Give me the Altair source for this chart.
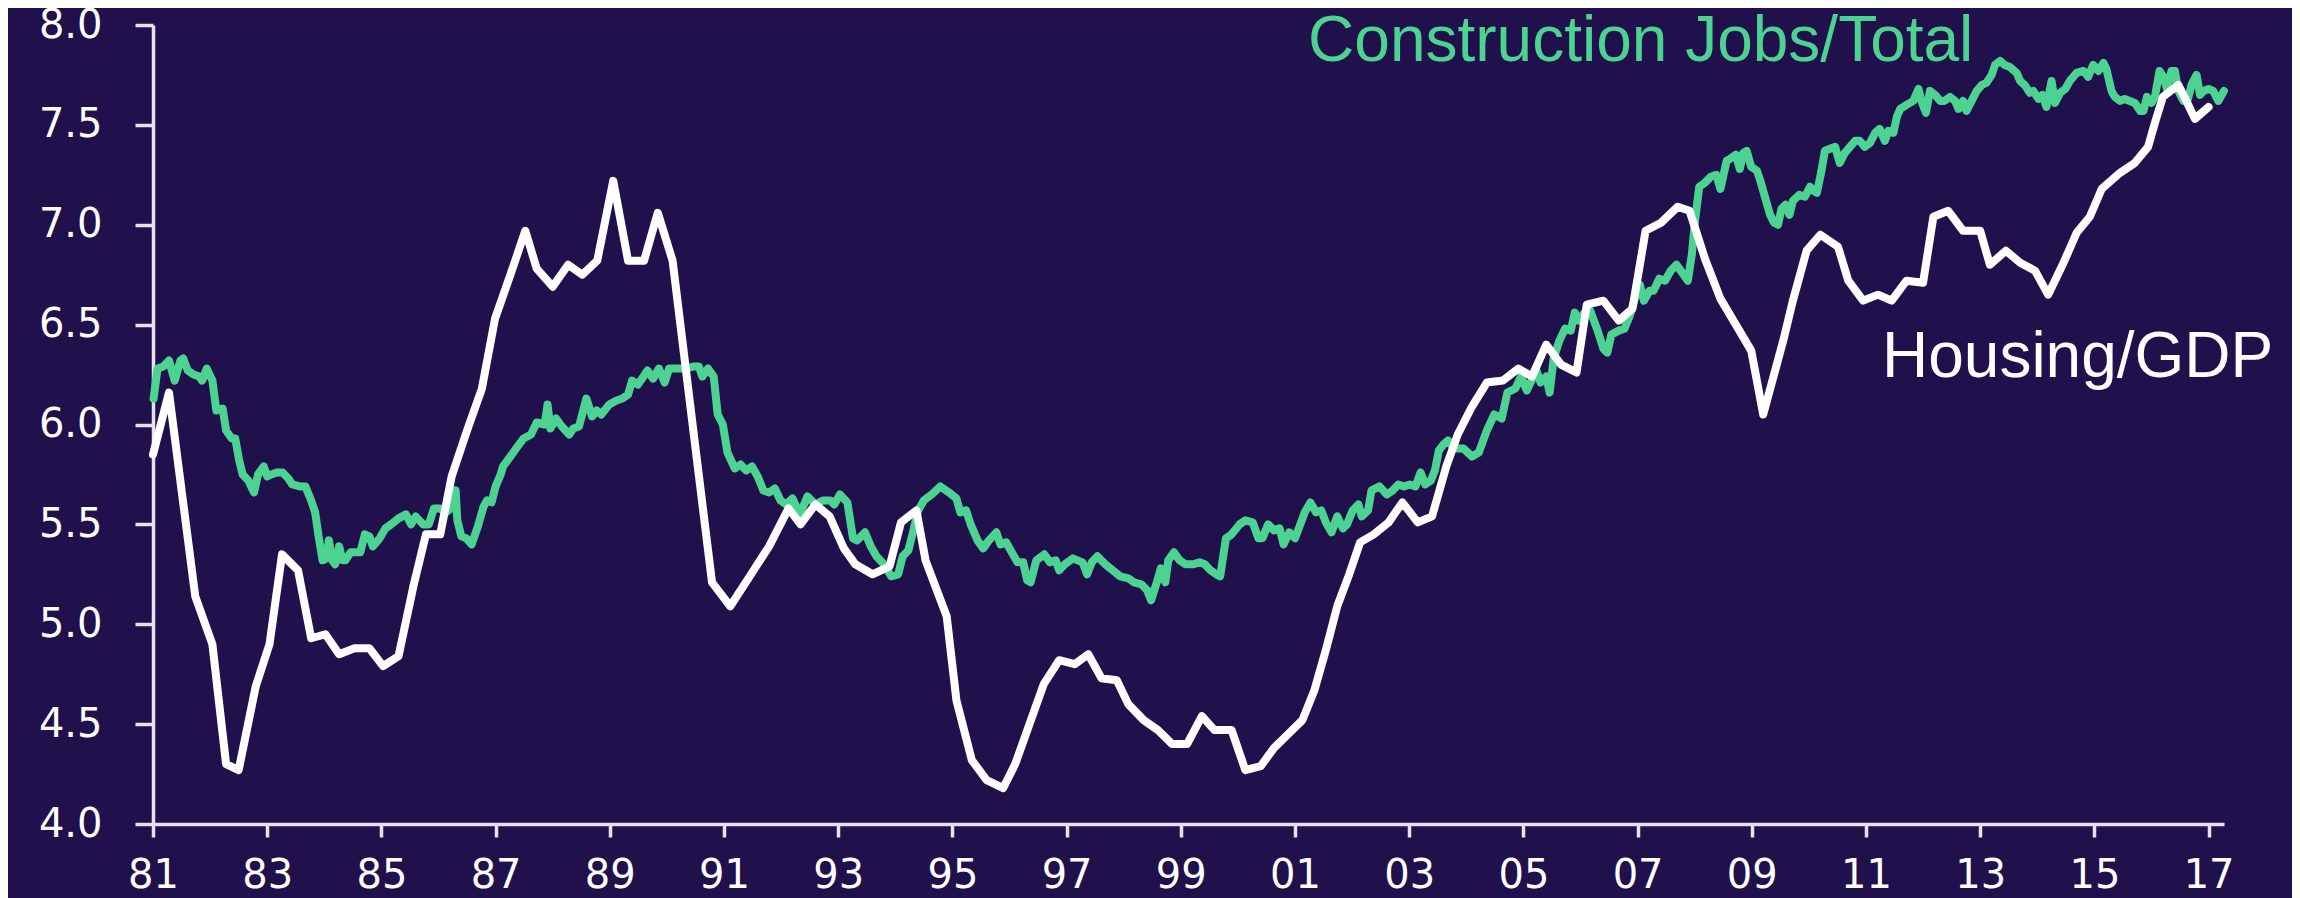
import altair as alt
import pandas as pd

# ---------------- data ----------------
housing_years = [
    1981.00, 1981.28, 1981.51, 1981.74, 1982.04, 1982.28, 1982.50, 1982.80, 1983.04, 1983.26,
    1983.54, 1983.77, 1984.02, 1984.26, 1984.53, 1984.79, 1985.03, 1985.30, 1985.56, 1985.78,
    1986.03, 1986.23, 1986.50, 1986.76, 1986.99, 1987.26, 1987.52, 1987.72, 1988.00, 1988.27,
    1988.52, 1988.78, 1989.06, 1989.32, 1989.60, 1989.84, 1990.10, 1990.45, 1990.79, 1991.11,
    1991.45, 1991.79, 1992.13, 1992.34, 1992.60, 1992.85, 1993.10, 1993.30, 1993.60, 1993.90,
    1994.10, 1994.37, 1994.53, 1994.90, 1995.07, 1995.34, 1995.60, 1995.89, 1996.10, 1996.40,
    1996.60, 1996.87, 1997.14, 1997.38, 1997.61, 1997.88, 1998.08, 1998.35, 1998.60, 1998.85,
    1999.11, 1999.37, 1999.59, 1999.89, 2000.13, 2000.40, 2000.63, 2000.88, 2001.13, 2001.34,
    2001.54, 2001.74, 2001.95, 2002.14, 2002.38, 2002.64, 2002.88, 2003.15, 2003.40, 2003.65,
    2003.85, 2004.10, 2004.36, 2004.64, 2004.91, 2005.15, 2005.40, 2005.66, 2005.93, 2006.11,
    2006.40, 2006.67, 2006.91, 2007.14, 2007.41, 2007.70, 2007.91, 2008.18, 2008.45, 2008.72,
    2008.99, 2009.20, 2009.39, 2009.56, 2009.72, 2009.96, 2010.20, 2010.51, 2010.69, 2010.95,
    2011.21, 2011.45, 2011.71, 2012.00, 2012.18, 2012.44, 2012.70, 2013.00, 2013.17, 2013.45,
    2013.70, 2013.96, 2014.19, 2014.46, 2014.69, 2014.92, 2015.13, 2015.45, 2015.71, 2015.94,
    2016.06, 2016.20, 2016.47, 2016.61, 2016.76, 2017.00,
]
housing_vals = [
    5.85, 6.16, 5.65, 5.14, 4.90, 4.30, 4.27, 4.69, 4.90, 5.35,
    5.27, 4.93, 4.95, 4.85, 4.88, 4.88, 4.79, 4.84, 5.19, 5.45,
    5.45, 5.74, 5.97, 6.18, 6.53, 6.75, 6.97, 6.78, 6.69, 6.80,
    6.75, 6.82, 7.22, 6.82, 6.82, 7.06, 6.82, 6.00, 5.21, 5.09,
    5.24, 5.39, 5.58, 5.50, 5.60, 5.54, 5.38, 5.30, 5.25, 5.29,
    5.51, 5.57, 5.32, 5.04, 4.62, 4.32, 4.22, 4.18, 4.30, 4.54,
    4.70, 4.82, 4.80, 4.85, 4.73, 4.72, 4.60, 4.52, 4.47, 4.40,
    4.40, 4.54, 4.47, 4.47, 4.27, 4.29, 4.38, 4.45, 4.52, 4.67,
    4.87, 5.09, 5.25, 5.41, 5.45, 5.51, 5.61, 5.51, 5.54, 5.79,
    5.95, 6.09, 6.21, 6.22, 6.28, 6.24, 6.40, 6.30, 6.26, 6.60,
    6.62, 6.52, 6.58, 6.97, 7.01, 7.09, 7.07, 6.83, 6.63, 6.50,
    6.37, 6.05, 6.25, 6.43, 6.62, 6.87, 6.95, 6.89, 6.72, 6.62,
    6.65, 6.62, 6.72, 6.71, 7.04, 7.07, 6.97, 6.97, 6.80, 6.87,
    6.81, 6.77, 6.65, 6.81, 6.96, 7.04, 7.18, 7.26, 7.31, 7.39,
    7.51, 7.64, 7.70, 7.62, 7.53, 7.59,
]

jobs_years = [
    1981.01, 1981.08, 1981.18, 1981.28, 1981.38, 1981.48, 1981.53, 1981.61, 1981.71, 1981.81,
    1981.86, 1981.94, 1982.04, 1982.11, 1982.22, 1982.28, 1982.38, 1982.44, 1982.51, 1982.57,
    1982.67, 1982.77, 1982.84, 1982.94, 1983.00, 1983.07, 1983.17, 1983.27, 1983.37, 1983.44,
    1983.57, 1983.67, 1983.77, 1983.84, 1983.90, 1983.97, 1984.04, 1984.08, 1984.14, 1984.19,
    1984.26, 1984.32, 1984.37, 1984.46, 1984.57, 1984.63, 1984.71, 1984.79, 1984.85, 1984.97,
    1985.07, 1985.17, 1985.30, 1985.43, 1985.52, 1985.60, 1985.73, 1985.83, 1985.92, 1986.03,
    1986.13, 1986.22, 1986.30, 1986.33, 1986.40, 1986.49, 1986.58, 1986.69, 1986.79, 1986.85,
    1986.93, 1987.00, 1987.09, 1987.13, 1987.26, 1987.36, 1987.49, 1987.62, 1987.72, 1987.86,
    1987.91, 1987.96, 1988.06, 1988.16, 1988.29, 1988.36, 1988.46, 1988.59, 1988.69, 1988.77,
    1988.85, 1988.99, 1989.12, 1989.22, 1989.32, 1989.39, 1989.49, 1989.59, 1989.66, 1989.76,
    1989.86, 1989.96, 1990.04, 1990.19, 1990.32, 1990.46, 1990.56, 1990.62, 1990.72, 1990.82,
    1990.89, 1990.98, 1991.06, 1991.19, 1991.29, 1991.39, 1991.49, 1991.59, 1991.69, 1991.79,
    1991.89, 1991.99, 1992.09, 1992.20, 1992.33, 1992.46, 1992.60, 1992.73, 1992.86, 1992.93,
    1993.03, 1993.16, 1993.26, 1993.33, 1993.47, 1993.57, 1993.67, 1993.80, 1993.93, 1994.05,
    1994.13, 1994.23, 1994.30, 1994.40, 1994.50, 1994.64, 1994.79, 1994.94, 1995.07, 1995.14,
    1995.24, 1995.32, 1995.44, 1995.54, 1995.64, 1995.77, 1995.84, 1995.94, 1996.04, 1996.14,
    1996.24, 1996.31, 1996.37, 1996.47, 1996.61, 1996.71, 1996.81, 1996.87, 1996.97, 1997.11,
    1997.28, 1997.36, 1997.44, 1997.54, 1997.68, 1997.81, 1997.94, 1998.08, 1998.18, 1998.31,
    1998.41, 1998.48, 1998.58, 1998.65, 1998.73, 1998.78, 1998.88, 1998.98, 1999.08, 1999.21,
    1999.33, 1999.42, 1999.52, 1999.62, 1999.69, 1999.79, 1999.89, 2000.03, 2000.13, 2000.26,
    2000.36, 2000.43, 2000.53, 2000.63, 2000.73, 2000.80, 2000.90, 2001.00, 2001.08, 2001.17,
    2001.27, 2001.37, 2001.46, 2001.54, 2001.64, 2001.74, 2001.84, 2001.91, 2002.01, 2002.11,
    2002.17, 2002.28, 2002.34, 2002.48, 2002.61, 2002.71, 2002.81, 2002.91, 2003.01, 2003.11,
    2003.20, 2003.28, 2003.38, 2003.45, 2003.52, 2003.60, 2003.68, 2003.79, 2003.95, 2004.10,
    2004.22, 2004.36, 2004.49, 2004.62, 2004.72, 2004.86, 2004.96, 2005.06, 2005.16, 2005.23,
    2005.30, 2005.40, 2005.46, 2005.53, 2005.63, 2005.73, 2005.83, 2005.90, 2005.97, 2006.07,
    2006.17, 2006.30, 2006.40, 2006.47, 2006.54, 2006.67, 2006.77, 2006.87, 2006.97, 2007.04,
    2007.11, 2007.21, 2007.28, 2007.38, 2007.48, 2007.58, 2007.68, 2007.78, 2007.88, 2007.95,
    2008.01, 2008.08, 2008.18, 2008.28, 2008.38, 2008.45, 2008.56, 2008.62, 2008.72, 2008.79,
    2008.85, 2008.91, 2008.99, 2009.09, 2009.15, 2009.24, 2009.32, 2009.39, 2009.46, 2009.52,
    2009.59, 2009.66, 2009.72, 2009.83, 2009.93, 2010.02, 2010.08, 2010.14, 2010.22, 2010.28,
    2010.37, 2010.46, 2010.54, 2010.63, 2010.72, 2010.81, 2010.89, 2010.98, 2011.07, 2011.16,
    2011.24, 2011.33, 2011.39, 2011.48, 2011.54, 2011.60, 2011.71, 2011.83, 2011.92, 2011.97,
    2012.05, 2012.12, 2012.21, 2012.30, 2012.37, 2012.47, 2012.56, 2012.62, 2012.70, 2012.76,
    2012.85, 2012.94, 2013.03, 2013.11, 2013.20, 2013.26, 2013.35, 2013.43, 2013.52, 2013.64,
    2013.70, 2013.78, 2013.87, 2013.93, 2014.02, 2014.09, 2014.16, 2014.25, 2014.31, 2014.40,
    2014.49, 2014.57, 2014.69, 2014.81, 2014.89, 2014.98, 2015.07, 2015.16, 2015.21, 2015.30,
    2015.36, 2015.45, 2015.53, 2015.62, 2015.71, 2015.80, 2015.86, 2015.92, 2016.00, 2016.06,
    2016.14, 2016.21, 2016.27, 2016.35, 2016.41, 2016.47, 2016.56, 2016.64, 2016.70, 2016.79,
    2016.85, 2016.91, 2017.00, 2017.08, 2017.17, 2017.27,
]
jobs_vals = [
    6.13, 6.28, 6.29, 6.32, 6.22, 6.32, 6.33, 6.27, 6.25, 6.24,
    6.22, 6.28, 6.22, 6.07, 6.08, 5.97, 5.93, 5.93, 5.82, 5.75,
    5.72, 5.66, 5.75, 5.79, 5.74, 5.75, 5.76, 5.76, 5.73, 5.70,
    5.69, 5.69, 5.62, 5.56, 5.44, 5.32, 5.33, 5.42, 5.32, 5.30,
    5.39, 5.32, 5.32, 5.36, 5.36, 5.36, 5.45, 5.44, 5.39, 5.43,
    5.48, 5.50, 5.53, 5.55, 5.50, 5.54, 5.50, 5.50, 5.58, 5.58,
    5.56, 5.58, 5.67, 5.52, 5.44, 5.43, 5.40, 5.49, 5.59, 5.62,
    5.61, 5.69, 5.75, 5.79, 5.84, 5.88, 5.93, 5.95, 6.01, 6.00,
    6.10, 5.98, 6.03, 5.99, 5.95, 5.98, 5.99, 6.13, 6.04, 6.07,
    6.05, 6.10, 6.12, 6.13, 6.15, 6.22, 6.20, 6.24, 6.27, 6.23,
    6.28, 6.21, 6.28, 6.28, 6.28, 6.29, 6.29, 6.24, 6.28, 6.24,
    6.05, 6.00, 5.86, 5.78, 5.80, 5.77, 5.79, 5.74, 5.67, 5.66,
    5.68, 5.62, 5.60, 5.63, 5.55, 5.64, 5.60, 5.62, 5.62, 5.60,
    5.65, 5.61, 5.43, 5.42, 5.46, 5.39, 5.34, 5.30, 5.24, 5.25,
    5.34, 5.37, 5.45, 5.57, 5.62, 5.65, 5.69, 5.66, 5.63, 5.56,
    5.57, 5.50, 5.42, 5.38, 5.42, 5.46, 5.40, 5.41, 5.36, 5.31,
    5.31, 5.22, 5.21, 5.32, 5.35, 5.31, 5.32, 5.27, 5.30, 5.33,
    5.31, 5.25, 5.31, 5.34, 5.30, 5.27, 5.24, 5.23, 5.21, 5.20,
    5.17, 5.12, 5.21, 5.28, 5.21, 5.32, 5.36, 5.32, 5.30, 5.30,
    5.31, 5.30, 5.27, 5.25, 5.24, 5.43, 5.45, 5.50, 5.52, 5.51,
    5.43, 5.43, 5.50, 5.47, 5.48, 5.40, 5.46, 5.43, 5.49, 5.56,
    5.61, 5.56, 5.57, 5.51, 5.46, 5.54, 5.48, 5.50, 5.57, 5.60,
    5.54, 5.57, 5.67, 5.69, 5.65, 5.67, 5.70, 5.69, 5.70, 5.69,
    5.76, 5.70, 5.72, 5.77, 5.87, 5.90, 5.92, 5.88, 5.88, 5.84,
    5.86, 5.97, 6.05, 6.03, 6.16, 6.18, 6.24, 6.17, 6.23, 6.27,
    6.21, 6.24, 6.16, 6.33, 6.42, 6.48, 6.47, 6.56, 6.52, 6.56,
    6.57, 6.47, 6.38, 6.36, 6.45, 6.47, 6.48, 6.55, 6.65, 6.70,
    6.62, 6.67, 6.67, 6.73, 6.72, 6.77, 6.80, 6.76, 6.72, 6.85,
    7.03, 7.19, 7.21, 7.24, 7.25, 7.18, 7.32, 7.33, 7.35, 7.28,
    7.36, 7.37, 7.29, 7.27, 7.22, 7.13, 7.05, 7.01, 7.00, 7.08,
    7.10, 7.05, 7.12, 7.15, 7.14, 7.19, 7.17, 7.16, 7.27, 7.37,
    7.38, 7.39, 7.31, 7.36, 7.39, 7.42, 7.42, 7.39, 7.41, 7.46,
    7.48, 7.42, 7.47, 7.46, 7.54, 7.58, 7.60, 7.62, 7.68, 7.62,
    7.56, 7.67, 7.65, 7.62, 7.62, 7.64, 7.62, 7.58, 7.62, 7.57,
    7.62, 7.67, 7.70, 7.71, 7.75, 7.80, 7.82, 7.80, 7.79, 7.76,
    7.72, 7.70, 7.66, 7.67, 7.63, 7.65, 7.59, 7.72, 7.61, 7.66,
    7.68, 7.72, 7.76, 7.77, 7.74, 7.80, 7.77, 7.81, 7.78, 7.67,
    7.64, 7.62, 7.63, 7.62, 7.61, 7.57, 7.57, 7.64, 7.61, 7.64,
    7.77, 7.74, 7.68, 7.77, 7.77, 7.67, 7.62, 7.63, 7.70, 7.75,
    7.65, 7.67, 7.68, 7.67, 7.62, 7.67,
]

x_tick_years = [1981, 1983, 1985, 1987, 1989, 1991, 1993, 1995, 1997, 1999,
                2001, 2003, 2005, 2007, 2009, 2011, 2013, 2015, 2017]
x_tick_labels = ["81", "83", "85", "87", "89", "91", "93", "95", "97", "99",
                 "01", "03", "05", "07", "09", "11", "13", "15", "17"]
y_ticks = [4.0, 4.5, 5.0, 5.5, 6.0, 6.5, 7.0, 7.5, 8.0]

series_labels = ["Construction Jobs/Total", "Housing/GDP"]
label_years = [2001.23, 2011.28]
label_vals = [7.82, 6.24]

# ---------------- styling ----------------
BG = "#20104b"
GREEN = "#4cd391"
WHITE = "#ffffff"
AXIS = "#e4e2ee"

housing = pd.DataFrame({"year": housing_years, "value": housing_vals})
jobs = pd.DataFrame({"year": jobs_years, "value": jobs_vals})
labels = pd.DataFrame({"text": series_labels, "year": label_years, "value": label_vals,
                       "color": [GREEN, WHITE]})

label_expr = " : ".join(
    f"datum.value == {y} ? '{l}'" for y, l in zip(x_tick_years, x_tick_labels)
) + " : ''"

x_scale = alt.Scale(domain=[1981, 2017.27], nice=False, zero=False)
y_scale = alt.Scale(domain=[4, 8], nice=False, zero=False)

x_axis = alt.Axis(values=x_tick_years, labelExpr=label_expr, title=None, grid=False,
                  domainColor=AXIS, domainWidth=3.5, tickColor=AXIS, tickWidth=3.5,
                  tickSize=13, labelFont="DejaVu Sans", labelFontSize=40,
                  labelColor=WHITE, labelPadding=18, labelFlush=False,
                  labelOverlap=False, labelBound=False)
y_axis = alt.Axis(values=y_ticks, format=".1f", title=None, grid=False,
                  domainColor=AXIS, domainWidth=3.5, tickColor=AXIS, tickWidth=3.5,
                  tickSize=18, labelFont="DejaVu Sans", labelFontSize=40,
                  labelColor=WHITE, labelPadding=33, labelFlush=False,
                  labelOverlap=False, labelBound=False)

jobs_line = alt.Chart(jobs).mark_line(
    color=GREEN, strokeWidth=8, strokeJoin="round", strokeCap="round"
).encode(
    x=alt.X("year:Q", scale=x_scale, axis=x_axis),
    y=alt.Y("value:Q", scale=y_scale, axis=y_axis),
)

housing_line = alt.Chart(housing).mark_line(
    color=WHITE, strokeWidth=8, strokeJoin="round", strokeCap="round"
).encode(
    x=alt.X("year:Q", scale=x_scale),
    y=alt.Y("value:Q", scale=y_scale),
)

text = alt.Chart(labels).mark_text(
    align="left", baseline="alphabetic", font="Liberation Sans", fontSize=64
).encode(
    x=alt.X("year:Q", scale=x_scale),
    y=alt.Y("value:Q", scale=y_scale),
    text="text:N",
    color=alt.Color("color:N", scale=None),
)

chart = alt.layer(jobs_line, housing_line, text).properties(
    width=2071, height=799, background=BG,
    autosize=alt.AutoSizeParams(type="none"),
    padding={"left": 145, "top": 17, "right": 68, "bottom": 74},
).configure_view(stroke=None)

chart.save("out.html", embed_options={"renderer": "svg", "actions": False})
